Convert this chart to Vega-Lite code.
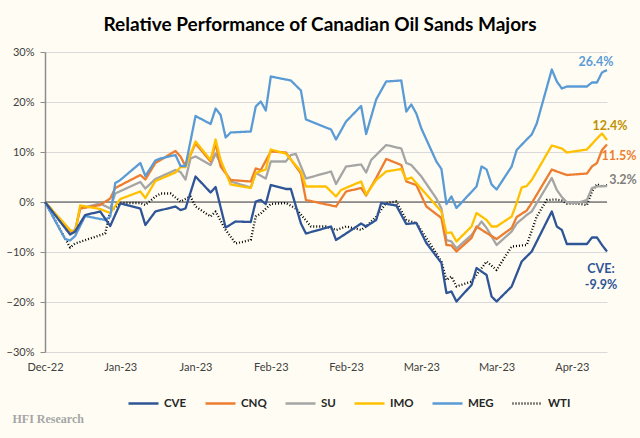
{
  "$schema": "https://vega.github.io/schema/vega-lite/v6.json",
  "width": 562,
  "height": 300,
  "autosize": {"type": "none"},
  "padding": {"left": 45, "top": 52, "right": 33, "bottom": 86},
  "background": "#FFFDF3",
  "title": {"text": "Relative Performance of Canadian Oil Sands Majors", "font": "Lato", "fontSize": 19, "fontWeight": "bold", "color": "#000000", "anchor": "middle", "frame": "group", "offset": 11, "dx": -6},
  "datasets": {
    "lines": [
      {"s":"WTI","d":"2022-12-30","v":0},{"s":"WTI","d":"2023-01-04","v":-9.1},{"s":"WTI","d":"2023-01-05","v":-8.3},{"s":"WTI","d":"2023-01-11","v":-6.3},{"s":"WTI","d":"2023-01-12","v":-1.9},{"s":"WTI","d":"2023-01-14","v":-0.2},{"s":"WTI","d":"2023-01-18","v":-0.2},{"s":"WTI","d":"2023-01-19","v":-0.6},{"s":"WTI","d":"2023-01-21","v":1.1},{"s":"WTI","d":"2023-01-22","v":1.7},{"s":"WTI","d":"2023-01-24","v":1.7},{"s":"WTI","d":"2023-01-26","v":0.1},{"s":"WTI","d":"2023-01-28","v":1.1},{"s":"WTI","d":"2023-01-29","v":-0.9},{"s":"WTI","d":"2023-02-01","v":-2.9},{"s":"WTI","d":"2023-02-02","v":-1.9},{"s":"WTI","d":"2023-02-04","v":-5.6},{"s":"WTI","d":"2023-02-06","v":-8.3},{"s":"WTI","d":"2023-02-09","v":-7.6},{"s":"WTI","d":"2023-02-10","v":-2.9},{"s":"WTI","d":"2023-02-11","v":-2.3},{"s":"WTI","d":"2023-02-13","v":-0.4},{"s":"WTI","d":"2023-02-16","v":-0.2},{"s":"WTI","d":"2023-02-18","v":-1.3},{"s":"WTI","d":"2023-02-21","v":-4.9},{"s":"WTI","d":"2023-02-24","v":-4.9},{"s":"WTI","d":"2023-02-26","v":-5.6},{"s":"WTI","d":"2023-02-28","v":-4.9},{"s":"WTI","d":"2023-03-03","v":-5.6},{"s":"WTI","d":"2023-03-04","v":-4.9},{"s":"WTI","d":"2023-03-06","v":-2.9},{"s":"WTI","d":"2023-03-08","v":-0.2},{"s":"WTI","d":"2023-03-10","v":0.1},{"s":"WTI","d":"2023-03-12","v":-3.6},{"s":"WTI","d":"2023-03-14","v":-4.2},{"s":"WTI","d":"2023-03-16","v":-7.2},{"s":"WTI","d":"2023-03-19","v":-11.9},{"s":"WTI","d":"2023-03-20","v":-15.6},{"s":"WTI","d":"2023-03-21","v":-14.9},{"s":"WTI","d":"2023-03-22","v":-16.9},{"s":"WTI","d":"2023-03-25","v":-15.9},{"s":"WTI","d":"2023-03-28","v":-11.9},{"s":"WTI","d":"2023-03-30","v":-13.6},{"s":"WTI","d":"2023-04-02","v":-8.9},{"s":"WTI","d":"2023-04-05","v":-8.6},{"s":"WTI","d":"2023-04-07","v":-2.9},{"s":"WTI","d":"2023-04-09","v":0.4},{"s":"WTI","d":"2023-04-11","v":0.5},{"s":"WTI","d":"2023-04-12","v":0.3},{"s":"WTI","d":"2023-04-13","v":-0.3},{"s":"WTI","d":"2023-04-15","v":-0.3},{"s":"WTI","d":"2023-04-17","v":-0.6},{"s":"WTI","d":"2023-04-18","v":2.1},{"s":"WTI","d":"2023-04-19","v":3.6},{"s":"WTI","d":"2023-04-20","v":3.1},{"s":"WTI","d":"2023-04-21","v":3.4},

      {"s":"SU","d":"2022-12-30","v":0},{"s":"SU","d":"2023-01-04","v":-5.9},{"s":"SU","d":"2023-01-05","v":-5.6},{"s":"SU","d":"2023-01-06","v":-1.3},{"s":"SU","d":"2023-01-10","v":-0.3},{"s":"SU","d":"2023-01-12","v":-1.3},{"s":"SU","d":"2023-01-13","v":1.7},{"s":"SU","d":"2023-01-18","v":4.0},{"s":"SU","d":"2023-01-19","v":2.7},{"s":"SU","d":"2023-01-21","v":4.6},{"s":"SU","d":"2023-01-25","v":6.4},{"s":"SU","d":"2023-01-26","v":6.0},{"s":"SU","d":"2023-01-27","v":4.5},{"s":"SU","d":"2023-01-28","v":8.7},{"s":"SU","d":"2023-01-29","v":9.1},{"s":"SU","d":"2023-02-01","v":7.4},{"s":"SU","d":"2023-02-02","v":9.7},{"s":"SU","d":"2023-02-03","v":7.7},{"s":"SU","d":"2023-02-05","v":4.1},{"s":"SU","d":"2023-02-09","v":2.9},{"s":"SU","d":"2023-02-10","v":5.8},{"s":"SU","d":"2023-02-12","v":4.7},{"s":"SU","d":"2023-02-13","v":8.1},{"s":"SU","d":"2023-02-16","v":8.1},{"s":"SU","d":"2023-02-17","v":9.4},{"s":"SU","d":"2023-02-18","v":9.6},{"s":"SU","d":"2023-02-20","v":4.7},{"s":"SU","d":"2023-02-25","v":6.1},{"s":"SU","d":"2023-02-26","v":3.6},{"s":"SU","d":"2023-02-28","v":7.1},{"s":"SU","d":"2023-03-03","v":7.5},{"s":"SU","d":"2023-03-04","v":5.9},{"s":"SU","d":"2023-03-05","v":8.4},{"s":"SU","d":"2023-03-08","v":11.4},{"s":"SU","d":"2023-03-11","v":10.7},{"s":"SU","d":"2023-03-12","v":7.8},{"s":"SU","d":"2023-03-13","v":7.4},{"s":"SU","d":"2023-03-15","v":5.1},{"s":"SU","d":"2023-03-18","v":0.7},{"s":"SU","d":"2023-03-19","v":-1.3},{"s":"SU","d":"2023-03-20","v":-7.6},{"s":"SU","d":"2023-03-21","v":-7.9},{"s":"SU","d":"2023-03-22","v":-9.3},{"s":"SU","d":"2023-03-25","v":-6.6},{"s":"SU","d":"2023-03-27","v":-3.9},{"s":"SU","d":"2023-03-28","v":-5.2},{"s":"SU","d":"2023-03-30","v":-8.6},{"s":"SU","d":"2023-04-02","v":-5.9},{"s":"SU","d":"2023-04-03","v":-4.3},{"s":"SU","d":"2023-04-05","v":-2.6},{"s":"SU","d":"2023-04-06","v":-1.9},{"s":"SU","d":"2023-04-10","v":4.8},{"s":"SU","d":"2023-04-11","v":2.4},{"s":"SU","d":"2023-04-12","v":1.0},{"s":"SU","d":"2023-04-13","v":-0.1},{"s":"SU","d":"2023-04-15","v":-0.2},{"s":"SU","d":"2023-04-17","v":0.4},{"s":"SU","d":"2023-04-18","v":2.8},{"s":"SU","d":"2023-04-19","v":3.1},{"s":"SU","d":"2023-04-21","v":3.2},

      {"s":"CNQ","d":"2022-12-30","v":0},{"s":"CNQ","d":"2023-01-04","v":-5.9},{"s":"CNQ","d":"2023-01-05","v":-5.9},{"s":"CNQ","d":"2023-01-06","v":-1.3},{"s":"CNQ","d":"2023-01-10","v":-0.6},{"s":"CNQ","d":"2023-01-12","v":0.7},{"s":"CNQ","d":"2023-01-13","v":2.8},{"s":"CNQ","d":"2023-01-18","v":5.4},{"s":"CNQ","d":"2023-01-19","v":4.5},{"s":"CNQ","d":"2023-01-21","v":7.8},{"s":"CNQ","d":"2023-01-25","v":10.2},{"s":"CNQ","d":"2023-01-26","v":9.1},{"s":"CNQ","d":"2023-01-27","v":7.2},{"s":"CNQ","d":"2023-01-29","v":11.7},{"s":"CNQ","d":"2023-02-01","v":8.1},{"s":"CNQ","d":"2023-02-02","v":11.7},{"s":"CNQ","d":"2023-02-03","v":7.1},{"s":"CNQ","d":"2023-02-05","v":4.4},{"s":"CNQ","d":"2023-02-09","v":4.1},{"s":"CNQ","d":"2023-02-10","v":6.7},{"s":"CNQ","d":"2023-02-11","v":6.4},{"s":"CNQ","d":"2023-02-13","v":10.1},{"s":"CNQ","d":"2023-02-16","v":9.9},{"s":"CNQ","d":"2023-02-19","v":5.7},{"s":"CNQ","d":"2023-02-20","v":0.4},{"s":"CNQ","d":"2023-02-26","v":-0.9},{"s":"CNQ","d":"2023-02-28","v":2.1},{"s":"CNQ","d":"2023-03-03","v":2.8},{"s":"CNQ","d":"2023-03-04","v":1.3},{"s":"CNQ","d":"2023-03-06","v":4.8},{"s":"CNQ","d":"2023-03-08","v":8.6},{"s":"CNQ","d":"2023-03-11","v":7.4},{"s":"CNQ","d":"2023-03-12","v":4.1},{"s":"CNQ","d":"2023-03-14","v":3.4},{"s":"CNQ","d":"2023-03-16","v":-0.9},{"s":"CNQ","d":"2023-03-19","v":-3.2},{"s":"CNQ","d":"2023-03-20","v":-8.6},{"s":"CNQ","d":"2023-03-21","v":-8.7},{"s":"CNQ","d":"2023-03-22","v":-9.9},{"s":"CNQ","d":"2023-03-25","v":-7.2},{"s":"CNQ","d":"2023-03-26","v":-4.9},{"s":"CNQ","d":"2023-03-28","v":-6.2},{"s":"CNQ","d":"2023-03-30","v":-7.4},{"s":"CNQ","d":"2023-04-02","v":-5.2},{"s":"CNQ","d":"2023-04-03","v":-3.0},{"s":"CNQ","d":"2023-04-05","v":-1.7},{"s":"CNQ","d":"2023-04-06","v":-0.2},{"s":"CNQ","d":"2023-04-10","v":6.5},{"s":"CNQ","d":"2023-04-11","v":6.1},{"s":"CNQ","d":"2023-04-13","v":5.4},{"s":"CNQ","d":"2023-04-17","v":5.7},{"s":"CNQ","d":"2023-04-18","v":7.1},{"s":"CNQ","d":"2023-04-19","v":7.8},{"s":"CNQ","d":"2023-04-20","v":10.4},{"s":"CNQ","d":"2023-04-21","v":11.5},

      {"s":"IMO","d":"2022-12-30","v":0},{"s":"IMO","d":"2023-01-04","v":-5.6},{"s":"IMO","d":"2023-01-05","v":-6.1},{"s":"IMO","d":"2023-01-06","v":-0.7},{"s":"IMO","d":"2023-01-10","v":-1.4},{"s":"IMO","d":"2023-01-12","v":-2.2},{"s":"IMO","d":"2023-01-14","v":0.6},{"s":"IMO","d":"2023-01-18","v":2.1},{"s":"IMO","d":"2023-01-19","v":0.8},{"s":"IMO","d":"2023-01-21","v":4.2},{"s":"IMO","d":"2023-01-25","v":5.9},{"s":"IMO","d":"2023-01-26","v":7.0},{"s":"IMO","d":"2023-01-27","v":7.0},{"s":"IMO","d":"2023-01-29","v":12.1},{"s":"IMO","d":"2023-02-01","v":8.4},{"s":"IMO","d":"2023-02-02","v":12.5},{"s":"IMO","d":"2023-02-03","v":8.4},{"s":"IMO","d":"2023-02-05","v":3.5},{"s":"IMO","d":"2023-02-09","v":2.8},{"s":"IMO","d":"2023-02-10","v":5.8},{"s":"IMO","d":"2023-02-12","v":6.5},{"s":"IMO","d":"2023-02-13","v":10.5},{"s":"IMO","d":"2023-02-16","v":9.7},{"s":"IMO","d":"2023-02-19","v":6.1},{"s":"IMO","d":"2023-02-20","v":3.1},{"s":"IMO","d":"2023-02-24","v":3.1},{"s":"IMO","d":"2023-02-26","v":1.1},{"s":"IMO","d":"2023-02-27","v":2.4},{"s":"IMO","d":"2023-03-03","v":4.1},{"s":"IMO","d":"2023-03-04","v":1.5},{"s":"IMO","d":"2023-03-06","v":4.4},{"s":"IMO","d":"2023-03-08","v":6.1},{"s":"IMO","d":"2023-03-11","v":6.6},{"s":"IMO","d":"2023-03-12","v":4.5},{"s":"IMO","d":"2023-03-13","v":4.9},{"s":"IMO","d":"2023-03-16","v":1.5},{"s":"IMO","d":"2023-03-19","v":-1.9},{"s":"IMO","d":"2023-03-20","v":-6.2},{"s":"IMO","d":"2023-03-21","v":-6.1},{"s":"IMO","d":"2023-03-22","v":-7.9},{"s":"IMO","d":"2023-03-25","v":-4.9},{"s":"IMO","d":"2023-03-26","v":-2.2},{"s":"IMO","d":"2023-03-28","v":-3.6},{"s":"IMO","d":"2023-03-29","v":-4.9},{"s":"IMO","d":"2023-03-30","v":-4.9},{"s":"IMO","d":"2023-04-02","v":-2.9},{"s":"IMO","d":"2023-04-03","v":-0.2},{"s":"IMO","d":"2023-04-04","v":2.9},{"s":"IMO","d":"2023-04-05","v":3.2},{"s":"IMO","d":"2023-04-06","v":4.4},{"s":"IMO","d":"2023-04-10","v":11.3},{"s":"IMO","d":"2023-04-12","v":10.7},{"s":"IMO","d":"2023-04-13","v":9.9},{"s":"IMO","d":"2023-04-17","v":10.5},{"s":"IMO","d":"2023-04-19","v":12.7},{"s":"IMO","d":"2023-04-20","v":13.7},{"s":"IMO","d":"2023-04-21","v":12.4},

      {"s":"MEG","d":"2022-12-30","v":0},{"s":"MEG","d":"2023-01-03","v":-7.4},{"s":"MEG","d":"2023-01-04","v":-7.7},{"s":"MEG","d":"2023-01-05","v":-6.8},{"s":"MEG","d":"2023-01-07","v":-2.8},{"s":"MEG","d":"2023-01-10","v":-3.4},{"s":"MEG","d":"2023-01-11","v":-3.6},{"s":"MEG","d":"2023-01-12","v":-2.9},{"s":"MEG","d":"2023-01-13","v":3.8},{"s":"MEG","d":"2023-01-14","v":4.4},{"s":"MEG","d":"2023-01-18","v":7.8},{"s":"MEG","d":"2023-01-19","v":5.2},{"s":"MEG","d":"2023-01-21","v":8.3},{"s":"MEG","d":"2023-01-22","v":8.7},{"s":"MEG","d":"2023-01-25","v":9.4},{"s":"MEG","d":"2023-01-26","v":7.2},{"s":"MEG","d":"2023-01-27","v":7.2},{"s":"MEG","d":"2023-01-29","v":17.2},{"s":"MEG","d":"2023-02-01","v":15.6},{"s":"MEG","d":"2023-02-02","v":18.7},{"s":"MEG","d":"2023-02-03","v":17.4},{"s":"MEG","d":"2023-02-04","v":12.9},{"s":"MEG","d":"2023-02-05","v":13.9},{"s":"MEG","d":"2023-02-09","v":14.1},{"s":"MEG","d":"2023-02-10","v":19.1},{"s":"MEG","d":"2023-02-11","v":20.1},{"s":"MEG","d":"2023-02-12","v":18.3},{"s":"MEG","d":"2023-02-13","v":25.1},{"s":"MEG","d":"2023-02-17","v":24.3},{"s":"MEG","d":"2023-02-19","v":22.3},{"s":"MEG","d":"2023-02-20","v":16.5},{"s":"MEG","d":"2023-02-25","v":14.5},{"s":"MEG","d":"2023-02-26","v":12.5},{"s":"MEG","d":"2023-02-28","v":16.1},{"s":"MEG","d":"2023-03-03","v":19.2},{"s":"MEG","d":"2023-03-04","v":13.6},{"s":"MEG","d":"2023-03-06","v":20.5},{"s":"MEG","d":"2023-03-08","v":24.1},{"s":"MEG","d":"2023-03-11","v":24.3},{"s":"MEG","d":"2023-03-12","v":18.1},{"s":"MEG","d":"2023-03-13","v":19.5},{"s":"MEG","d":"2023-03-14","v":17.7},{"s":"MEG","d":"2023-03-15","v":14.7},{"s":"MEG","d":"2023-03-18","v":8.1},{"s":"MEG","d":"2023-03-19","v":6.6},{"s":"MEG","d":"2023-03-20","v":-0.4},{"s":"MEG","d":"2023-03-21","v":1.1},{"s":"MEG","d":"2023-03-22","v":-1.2},{"s":"MEG","d":"2023-03-26","v":3.1},{"s":"MEG","d":"2023-03-27","v":7.1},{"s":"MEG","d":"2023-03-28","v":6.5},{"s":"MEG","d":"2023-03-29","v":3.5},{"s":"MEG","d":"2023-03-30","v":2.5},{"s":"MEG","d":"2023-04-02","v":7.1},{"s":"MEG","d":"2023-04-03","v":10.4},{"s":"MEG","d":"2023-04-05","v":12.5},{"s":"MEG","d":"2023-04-06","v":13.5},{"s":"MEG","d":"2023-04-07","v":15.7},{"s":"MEG","d":"2023-04-10","v":26.5},{"s":"MEG","d":"2023-04-11","v":24.1},{"s":"MEG","d":"2023-04-12","v":22.7},{"s":"MEG","d":"2023-04-13","v":23.1},{"s":"MEG","d":"2023-04-17","v":23.1},{"s":"MEG","d":"2023-04-18","v":23.9},{"s":"MEG","d":"2023-04-19","v":23.9},{"s":"MEG","d":"2023-04-20","v":25.9},{"s":"MEG","d":"2023-04-21","v":26.4},

      {"s":"CVE","d":"2022-12-30","v":0},{"s":"CVE","d":"2023-01-04","v":-6.5},{"s":"CVE","d":"2023-01-05","v":-5.9},{"s":"CVE","d":"2023-01-07","v":-2.6},{"s":"CVE","d":"2023-01-10","v":-1.9},{"s":"CVE","d":"2023-01-12","v":-4.8},{"s":"CVE","d":"2023-01-14","v":-0.3},{"s":"CVE","d":"2023-01-18","v":-1.3},{"s":"CVE","d":"2023-01-19","v":-4.6},{"s":"CVE","d":"2023-01-21","v":-1.9},{"s":"CVE","d":"2023-01-25","v":-0.9},{"s":"CVE","d":"2023-01-26","v":-1.6},{"s":"CVE","d":"2023-01-27","v":-1.3},{"s":"CVE","d":"2023-01-29","v":5.1},{"s":"CVE","d":"2023-02-01","v":1.9},{"s":"CVE","d":"2023-02-02","v":3.0},{"s":"CVE","d":"2023-02-04","v":-5.1},{"s":"CVE","d":"2023-02-06","v":-3.9},{"s":"CVE","d":"2023-02-09","v":-4.0},{"s":"CVE","d":"2023-02-10","v":0.1},{"s":"CVE","d":"2023-02-11","v":0.4},{"s":"CVE","d":"2023-02-12","v":-0.4},{"s":"CVE","d":"2023-02-13","v":3.4},{"s":"CVE","d":"2023-02-16","v":2.6},{"s":"CVE","d":"2023-02-17","v":2.6},{"s":"CVE","d":"2023-02-19","v":-4.3},{"s":"CVE","d":"2023-02-20","v":-6.3},{"s":"CVE","d":"2023-02-25","v":-4.9},{"s":"CVE","d":"2023-02-26","v":-7.6},{"s":"CVE","d":"2023-02-28","v":-6.3},{"s":"CVE","d":"2023-03-03","v":-4.3},{"s":"CVE","d":"2023-03-04","v":-4.9},{"s":"CVE","d":"2023-03-06","v":-3.6},{"s":"CVE","d":"2023-03-07","v":-0.2},{"s":"CVE","d":"2023-03-10","v":-0.7},{"s":"CVE","d":"2023-03-12","v":-4.4},{"s":"CVE","d":"2023-03-14","v":-4.2},{"s":"CVE","d":"2023-03-16","v":-8.2},{"s":"CVE","d":"2023-03-19","v":-12.2},{"s":"CVE","d":"2023-03-20","v":-18.2},{"s":"CVE","d":"2023-03-21","v":-17.9},{"s":"CVE","d":"2023-03-22","v":-19.9},{"s":"CVE","d":"2023-03-25","v":-16.6},{"s":"CVE","d":"2023-03-26","v":-13.2},{"s":"CVE","d":"2023-03-28","v":-14.6},{"s":"CVE","d":"2023-03-29","v":-18.9},{"s":"CVE","d":"2023-03-30","v":-19.9},{"s":"CVE","d":"2023-04-02","v":-16.9},{"s":"CVE","d":"2023-04-04","v":-11.9},{"s":"CVE","d":"2023-04-06","v":-9.9},{"s":"CVE","d":"2023-04-10","v":-1.9},{"s":"CVE","d":"2023-04-11","v":-4.9},{"s":"CVE","d":"2023-04-12","v":-5.6},{"s":"CVE","d":"2023-04-13","v":-8.4},{"s":"CVE","d":"2023-04-17","v":-8.4},{"s":"CVE","d":"2023-04-18","v":-7.1},{"s":"CVE","d":"2023-04-19","v":-7.1},{"s":"CVE","d":"2023-04-20","v":-8.6},{"s":"CVE","d":"2023-04-21","v":-9.9}
    ],
    "ends": [
      {"s":"MEG","d":"2023-04-21","v":26.4,"t":"26.4%"},
      {"s":"IMO","d":"2023-04-21","v":12.4,"t":"12.4%"},
      {"s":"CNQ","d":"2023-04-21","v":11.5,"t":"11.5%"},
      {"s":"SU","d":"2023-04-21","v":3.2,"t":"3.2%"},
      {"s":"CVE","d":"2023-04-21","v":-9.9,"t":"CVE:\n-9.9%"}
    ]
  },
  "layer": [
    {
      "data": {"values": [{"z": 0}]},
      "mark": {"type": "rule", "color": "#404040", "strokeWidth": 1},
      "encoding": {"y": {"field": "z", "type": "quantitative", "title": null}}
    },
    {
      "data": {"name": "lines"},
      "mark": {"type": "line", "strokeCap": "butt", "strokeJoin": "round"},
      "encoding": {
        "x": {
          "field": "d", "type": "temporal",
          "scale": {"type": "utc", "domain": [{"year": 2022, "month": 12, "date": 30, "utc": true}, {"year": 2023, "month": 4, "date": 21, "utc": true}]},
          "axis": {
            "values": [
              {"year": 2022, "month": 12, "date": 30, "utc": true},
              {"year": 2023, "month": 1, "date": 14, "utc": true},
              {"year": 2023, "month": 1, "date": 29, "utc": true},
              {"year": 2023, "month": 2, "date": 13, "utc": true},
              {"year": 2023, "month": 2, "date": 28, "utc": true},
              {"year": 2023, "month": 3, "date": 15, "utc": true},
              {"year": 2023, "month": 3, "date": 30, "utc": true},
              {"year": 2023, "month": 4, "date": 14, "utc": true}
            ],
            "labelExpr": "utcFormat(datum.value, '%b-%y')",
            "labelFlush": false, "labelOverlap": false,
            "grid": false, "ticks": false, "domain": false,
            "labelPadding": 9, "labelFontSize": 11, "labelColor": "#404040", "labelFont": "Lato",
            "title": "HFI Research", "titleAnchor": "start", "titleAlign": "left", "titleBaseline": "middle",
            "titleX": -33, "titleY": 66, "titleFont": "Liberation Serif", "titleFontWeight": "bold", "titleFontSize": 12, "titleColor": "#A6A6A6"
          }
        },
        "y": {
          "field": "v", "type": "quantitative",
          "scale": {"domain": [-30, 30]},
          "axis": {
            "values": [-30, -20, -10, 0, 10, 20, 30],
            "labelExpr": "datum.label + '%'",
            "title": null,
            "grid": true, "gridColor": "#D9D9D9", "gridWidth": 1,
            "domain": true, "domainColor": "#8C8C8C", "domainWidth": 1.5,
            "ticks": true, "tickColor": "#8C8C8C", "tickSize": 5, "tickWidth": 1,
            "labelPadding": 6, "labelFontSize": 11, "labelColor": "#404040", "labelFont": "Lato"
          }
        },
        "color": {
          "field": "s", "type": "nominal",
          "scale": {"domain": ["CVE", "CNQ", "SU", "IMO", "MEG", "WTI"], "range": ["#2F5597", "#ED7D31", "#A5A5A5", "#FFC000", "#5B9BD5", "#000000"]},
          "legend": {"title": null, "orient": "none", "legendX": 82, "legendY": 335, "direction": "horizontal", "symbolType": "stroke", "symbolSize": 900, "symbolStrokeWidth": 2.5, "labelFont": "Lato", "labelFontSize": 11.5, "labelFontWeight": "bold", "labelColor": "#262626", "columnPadding": 13, "labelOffset": 4}
        },
        "strokeDash": {
          "field": "s", "type": "nominal",
          "scale": {"domain": ["CVE", "CNQ", "SU", "IMO", "MEG", "WTI"], "range": [[1, 0], [1, 0], [1, 0], [1, 0], [1, 0], [1, 2]]},
          "legend": {"title": null, "orient": "none", "legendX": 82, "legendY": 335, "direction": "horizontal", "symbolType": "stroke", "symbolSize": 900, "symbolStrokeWidth": 2.5, "labelFont": "Lato", "labelFontSize": 11.5, "labelFontWeight": "bold", "labelColor": "#262626", "columnPadding": 13, "labelOffset": 4}
        },
        "strokeWidth": {
          "field": "s", "type": "nominal",
          "scale": {"domain": ["CVE", "CNQ", "SU", "IMO", "MEG", "WTI"], "range": [2.3, 2.3, 2.3, 2.3, 2.3, 1.1]},
          "legend": null
        }
      }
    },
    {
      "data": {"name": "ends"},
      "transform": [{"filter": "datum.s == 'MEG'"}],
      "mark": {"type": "text", "font": "Lato", "fontSize": 12.5, "fontWeight": "bold", "color": "#5B9BD5", "align": "center", "baseline": "middle", "dx": -11, "dy": -8},
      "encoding": {"x": {"field": "d", "type": "temporal"}, "y": {"field": "v", "type": "quantitative"}, "text": {"field": "t"}}
    },
    {
      "data": {"name": "ends"},
      "transform": [{"filter": "datum.s == 'IMO'"}],
      "mark": {"type": "text", "font": "Lato", "fontSize": 12.5, "fontWeight": "bold", "color": "#BF9000", "align": "center", "baseline": "middle", "dx": 3, "dy": -14},
      "encoding": {"x": {"field": "d", "type": "temporal"}, "y": {"field": "v", "type": "quantitative"}, "text": {"field": "t"}}
    },
    {
      "data": {"name": "ends"},
      "transform": [{"filter": "datum.s == 'CNQ'"}],
      "mark": {"type": "text", "font": "Lato", "fontSize": 12.5, "fontWeight": "bold", "color": "#ED7D31", "align": "center", "baseline": "middle", "dx": 12, "dy": 11.5},
      "encoding": {"x": {"field": "d", "type": "temporal"}, "y": {"field": "v", "type": "quantitative"}, "text": {"field": "t"}}
    },
    {
      "data": {"name": "ends"},
      "transform": [{"filter": "datum.s == 'SU'"}],
      "mark": {"type": "text", "font": "Lato", "fontSize": 12.5, "fontWeight": "bold", "color": "#7F7F7F", "align": "center", "baseline": "middle", "dx": 16, "dy": -6},
      "encoding": {"x": {"field": "d", "type": "temporal"}, "y": {"field": "v", "type": "quantitative"}, "text": {"field": "t"}}
    },
    {
      "data": {"name": "ends"},
      "transform": [{"filter": "datum.s == 'CVE'"}],
      "mark": {"type": "text", "font": "Lato", "fontSize": 12.5, "fontWeight": "bold", "color": "#2F5597", "align": "center", "baseline": "middle", "dx": -6, "dy": 17.5, "lineBreak": "\n", "lineHeight": 16},
      "encoding": {"x": {"field": "d", "type": "temporal"}, "y": {"field": "v", "type": "quantitative"}, "text": {"field": "t"}}
    }
  ],
  "config": {
    "view": {"stroke": null},
    "font": "Lato"
  }
}
